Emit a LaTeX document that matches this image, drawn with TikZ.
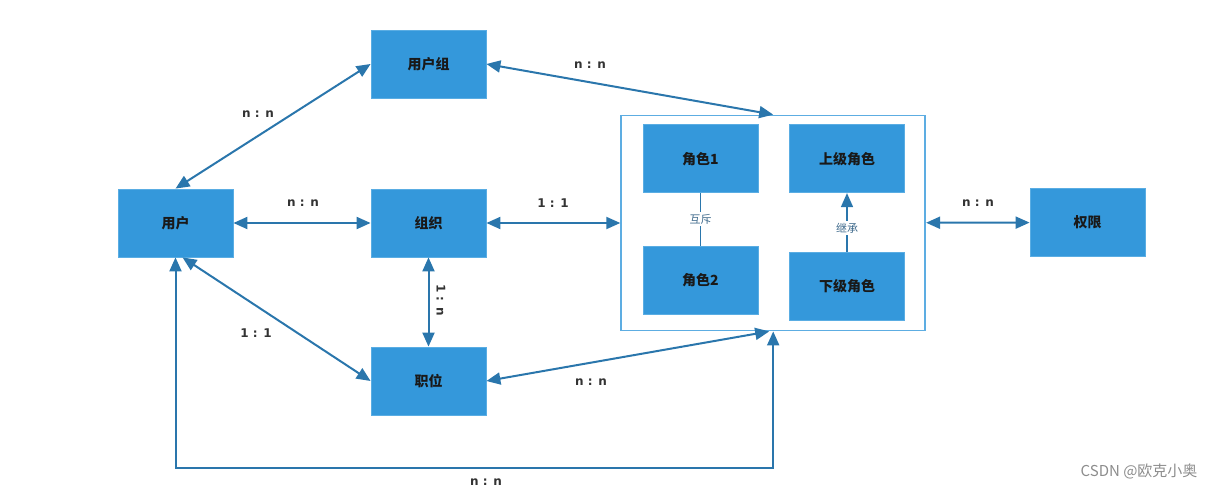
\documentclass[tikz,border=0pt]{standalone}
\usepackage{fontspec}
\setmainfont{Noto Sans CJK SC}
\newfontfamily\labfont{DejaVu Sans}
\usetikzlibrary{arrows.meta,calc}
\definecolor{boxblue}{HTML}{3498DB}
\definecolor{boxedge}{HTML}{5AADE3}
\definecolor{edgeblue}{HTML}{2A76AC}
\definecolor{labgray}{HTML}{333333}
\definecolor{innerlab}{HTML}{3F6A8C}
\tikzset{
  ent/.style={fill=boxblue, draw=boxedge, line width=0.8pt, minimum width=115pt, minimum height=68pt, inner sep=0pt,
    font=\fontsize{14}{16}\selectfont\bfseries, text=black!90},
  holder/.style={draw=boxblue!80!white, line width=1.8pt, minimum width=304pt, minimum height=215pt, inner sep=0pt},
  conn/.style={draw=edgeblue, line width=2pt},
  bi/.style={conn, {Triangle[length=14pt,width=12pt]}-{Triangle[length=14pt,width=12pt]}},
  uni/.style={conn, -{Triangle[length=14pt,width=12pt]}},
  rel/.style={font=\labfont\fontsize{12}{14}\selectfont\bfseries, text=labgray, inner sep=1pt},
  inlab/.style={font=\fontsize{11}{13}\selectfont, text=innerlab, fill=white, inner sep=2pt}
}
\begin{document}
\begin{tikzpicture}[x=1pt,y=-1pt]
\useasboundingbox (0,0) rectangle (1216,490);
% entities
\node[ent] (ug) at (428.5,64) {用户组};
\node[ent] (u)  at (175.5,223) {用户};
\node[ent] (zz) at (428.5,223) {组织};
\node[ent] (zw) at (428.5,381) {职位};
\node[ent] (qx) at (1087.5,222.5) {权限};
% role container
\node[holder] (c) at (773.2,223) {};
\node[ent] (r1) at (700.5,158.7) {角色1};
\node[ent] (r2) at (700.5,280) {角色2};
\node[ent] (up) at (847,158.7) {上级角色};
\node[ent] (lo) at (847,286) {下级角色};
% inner relations
\draw[conn, line width=1.3pt] (r1) -- (r2) node[inlab, midway] {互斥};
\draw[uni, line width=1.5pt] (lo) -- (up) node[inlab, pos=0.4] {继承};
% connectors
\draw[bi] (u.north) -- (ug.west);
\draw[bi] (ug.east) -- (c.north);
\draw[bi] (u) -- (zz);
\draw[bi] (zz) -- (c);
\draw[bi] (zz) -- (zw);
\draw[bi] ($(u.south)+(7,0)$) -- (zw.west);
\draw[bi] (zw.east) -- ($(c.south)+(-4,0)$);
\coordinate (loop) at (475,468);
\draw[bi] (u.south) |- (loop) -| (c.south);
\draw[bi] (c) -- (qx);
% labels
\node[rel] (l1) at (258,114) {n : n};
\node[rel] (l2) at (590,65) {n : n};
\node[rel] (l3) at (303,203) {n : n};
\node[rel] (l4) at (553,203) {1 : 1};
\node[rel, rotate=-90] (l5) at (441,300) {1 : n};
\node[rel] (l6) at (256,333) {1 : 1};
\node[rel] (l7) at (591,382) {n : n};
\node[rel] (l8) at (486,482) {n : n};
\node[rel] (l9) at (978,203) {n : n};
% watermark
\node[font=\fontsize{15}{17}\selectfont, text=black!45, anchor=east] (wm) at (1201,471) {CSDN @欧克小奥};
\end{tikzpicture}
\end{document}
